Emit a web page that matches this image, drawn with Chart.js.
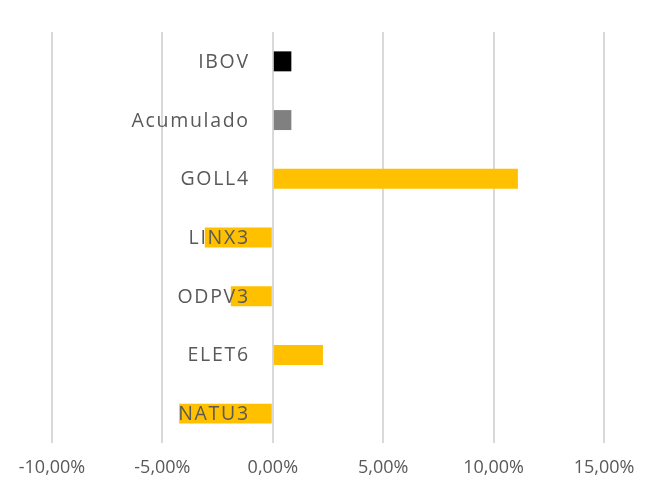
<!DOCTYPE html>
<html>
<head>
<meta charset="utf-8">
<script src="https://cdn.jsdelivr.net/npm/chart.js@4/dist/chart.umd.min.js"></script>
<style>
  html, body { margin: 0; padding: 0; background: #fff; }
  #wrap { width: 645px; height: 479px; }
</style>
</head>
<body>
<div id="wrap"><canvas id="barChart"></canvas></div>
<script>
// Categories and values (in %)
const categories = ["IBOV", "Acumulado", "GOLL4", "LINX3", "ODPV3", "ELET6", "NATU3"];
const returns = [0.84, 0.84, 11.1, -3.08, -1.9, 2.27, -4.24];
const barColors = ["#000000", "#808080", "#FFC000", "#FFC000", "#FFC000", "#FFC000", "#FFC000"];
const xTicks = [-10, -5, 0, 5, 10, 15];

const textColor = "#595959";
const fontFamily = "'Open Sans', 'Noto Sans', sans-serif";

// Draw the category labels next to the zero line, on top of the bars
const labelsAtZero = {
  id: "labelsAtZero",
  afterDatasetsDraw(chart) {
    const ctx = chart.ctx;
    const xScale = chart.scales.x;
    const yScale = chart.scales.y;
    const x0 = xScale.getPixelForValue(0);
    ctx.save();
    ctx.font = "19.5px " + fontFamily;
    ctx.fillStyle = textColor;
    ctx.textAlign = "right";
    ctx.textBaseline = "middle";
    ctx.letterSpacing = "1.7px";
    categories.forEach((name, i) => {
      ctx.fillText(name, x0 - 23, yScale.getPixelForValue(i) + 1);
    });
    ctx.restore();
  }
};

const ctx = document.getElementById("barChart").getContext("2d");
new Chart(ctx, {
  type: "bar",
  data: {
    labels: categories,
    datasets: [{
      data: returns,
      backgroundColor: barColors,
      borderWidth: 0,
      categoryPercentage: 1,
      barPercentage: 0.34
    }]
  },
  options: {
    indexAxis: "y",
    responsive: true,
    maintainAspectRatio: false,
    animation: false,
    layout: {
      padding: { left: 52, right: 41, top: 32, bottom: 0 }
    },
    scales: {
      x: {
        min: -10,
        max: 15,
        afterBuildTicks: (axis) => {
          axis.ticks = xTicks.map((v) => ({ value: v }));
        },
        afterFit: (axis) => {
          axis.height = 36;
          // let the layout padding alone decide the plot width
          axis.paddingLeft = 0;
          axis.paddingRight = 0;
        },
        grid: {
          color: "#d9d9d9",
          lineWidth: 2,
          drawTicks: false
        },
        border: { display: false },
        ticks: {
          color: textColor,
          padding: 14,
          font: { family: fontFamily, size: 18 },
          maxRotation: 0,
          callback: (v) => v.toFixed(2).replace(".", ",") + "%"
        }
      },
      y: {
        display: false
      }
    },
    plugins: {
      legend: { display: false },
      tooltip: { enabled: false }
    }
  },
  plugins: [labelsAtZero]
});
</script>
</body>
</html>
